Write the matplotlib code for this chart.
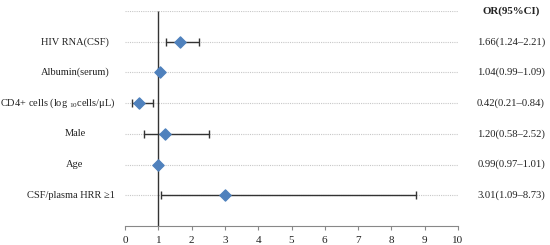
import matplotlib
matplotlib.use("Agg")
import matplotlib.pyplot as plt
import numpy as np

plt.rcParams.update({
    "font.family": ["Liberation Serif", "DejaVu Serif"],
    "mathtext.fontset": "custom",
    "mathtext.rm": "Liberation Serif",
    "font.size": 8,
})

labels = ["HIV RNA(CSF)", "Albumin(serum)",
          "CD4+ cells (log $_{\\mathregular{10}}$cells/\u03bcL)",
          "Male", "Age", "CSF/plasma HRR \u22651"]
odds = [1.66, 1.04, 0.42, 1.20, 0.99, 3.01]
lower = [1.24, 0.99, 0.21, 0.58, 0.97, 1.09]
upper = [2.21, 1.09, 0.84, 2.52, 1.01, 8.73]
xticks = list(range(0, 11))

W, H = 550, 245
fig = plt.figure(figsize=(W / 100, H / 100), dpi=100)
ax = fig.add_axes([125 / W, 1 - 226 / H, (458 - 125) / W, (226 - 11) / H])

n = len(labels)
y = np.arange(n, 0, -1)  # top row at n
odds_a = np.array(odds)
err = [odds_a - np.array(lower), np.array(upper) - odds_a]

# dotted guides, one per row plus header row
ax.hlines(np.arange(1, n + 2), 0, 10, colors="#c8c8c8", linestyles=(0, (1, 1)),
          linewidth=0.8, zorder=1)
ax.vlines(1, 0, n + 1, colors="#333333", linewidth=1.0, zorder=2)

ax.errorbar(odds, y, xerr=err, fmt="none", ecolor="#333333", elinewidth=1.0,
            capsize=3, capthick=1.0, zorder=3)
ax.scatter(odds, y, marker="D", s=32, color="#4f81bd", zorder=4)

ax.set_xlim(0, 10)
ax.set_ylim(0, n + 1)
ax.set_xticks(xticks)
ax.set_xticklabels([str(t) for t in xticks], fontsize=8)
ax.set_yticks([])
for side in ["top", "right", "left"]:
    ax.spines[side].set_visible(False)
ax.spines["bottom"].set_color("#888888")
ax.tick_params(axis="x", length=3, color="#888888", pad=4, labelcolor="#222222")

# row labels on the left, centred but kept clear of the axis
fig.canvas.draw()
renderer = fig.canvas.get_renderer()
texts = []
for lab, yy in zip(labels, y):
    t = ax.text(75, ax.transData.transform((0, yy))[1], lab,
                transform=None, ha="center", va="center", fontsize=7.5,
                color="#222222")
    texts.append(t)
fig.canvas.draw()
for t in texts:
    bb = t.get_window_extent(renderer)
    if bb.x1 > 115:
        x0, y0 = t.get_position()
        t.set_position((x0 - (bb.x1 - 115), y0))

# OR column on the right
ax.text(511 / W, ax.transData.transform((0, n + 1))[1] / H, "OR(95%CI)",
        transform=fig.transFigure, ha="center", va="center",
        fontsize=7.8, fontweight="bold", color="#222222")
for o, lo, hi, yy in zip(odds, lower, upper, y):
    ax.text(511 / W, ax.transData.transform((0, yy))[1] / H,
            f"{o:.2f}({lo:.2f}\u2013{hi:.2f})", transform=fig.transFigure,
            ha="center", va="center", fontsize=7.7, color="#222222")

fig.savefig("out.png", dpi=100)
